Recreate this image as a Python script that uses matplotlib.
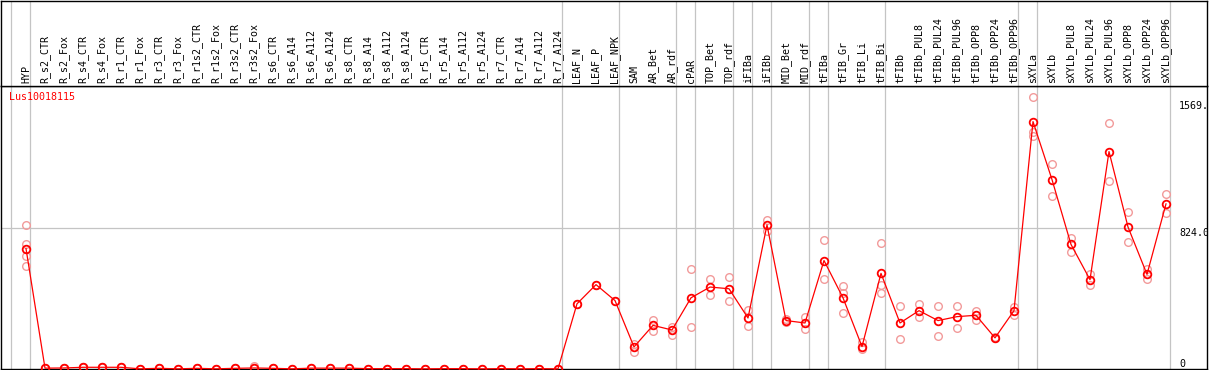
import numpy as np
from matplotlib import pyplot as plt

plt.rcParams['font.family'] = 'DejaVu Sans Mono'

gene = 'Lus10018115'

labels = ['HYP',
          'R_s2_CTR', 'R_s2_Fox', 'R_s4_CTR', 'R_s4_Fox', 'R_r1_CTR', 'R_r1_Fox',
          'R_r3_CTR', 'R_r3_Fox', 'R_r1s2_CTR', 'R_r1s2_Fox', 'R_r3s2_CTR', 'R_r3s2_Fox',
          'R_s6_CTR', 'R_s6_A14', 'R_s6_A112', 'R_s6_A124',
          'R_s8_CTR', 'R_s8_A14', 'R_s8_A112', 'R_s8_A124',
          'R_r5_CTR', 'R_r5_A14', 'R_r5_A112', 'R_r5_A124',
          'R_r7_CTR', 'R_r7_A14', 'R_r7_A112', 'R_r7_A124',
          'LEAF_N', 'LEAF_P', 'LEAF_NPK',
          'SAM', 'AR_Bet', 'AR_rdf',
          'cPAR',
          'TOP_Bet', 'TOP_rdf',
          'iFIBa',
          'iFIBb',
          'MID_Bet', 'MID_rdf',
          'tFIBa',
          'tFIB_Gr', 'tFIB_Li', 'tFIB_Bi',
          'tFIBb', 'tFIBb_PUL8', 'tFIBb_PUL24', 'tFIBb_PUL96',
          'tFIBb_OPP8', 'tFIBb_OPP24', 'tFIBb_OPP96',
          'sXYLa',
          'sXYLb', 'sXYLb_PUL8', 'sXYLb_PUL24', 'sXYLb_PUL96',
          'sXYLb_OPP8', 'sXYLb_OPP24', 'sXYLb_OPP96']

means = [704,
         5, 6, 10, 10, 10, 1, 4, 1, 4, 1, 4, 6,
         4, 1, 5, 5, 5, 2, 2, 2, 1, 2, 2, 1, 2, 1, 2, 1,
         381, 493, 400,
         129, 255, 228,
         416,
         479, 469,
         298,
         842,
         283, 269,
         634,
         416, 131, 559,
         269, 341, 283, 306, 314, 182, 341,
         1446,
         1107, 728, 522, 1271, 830, 553, 965]

reps = [[842, 728, 659, 600],
        [5, 5], [6, 6], [10, 10], [10, 10], [10, 10], [1, 1], [4, 4], [1, 1],
        [4, 4], [1, 1], [4, 4], [18, 4],
        [4, 4], [1, 1], [5, 5], [5, 5], [5, 5], [2, 2], [2, 2], [2, 2],
        [1, 1], [2, 2], [2, 2], [1, 1], [2, 2], [1, 1], [2, 2], [1, 1],
        [381], [493], [400],
        [145, 102], [288, 225], [243, 200],
        [587, 247],
        [526, 434], [540, 400],
        [347, 249],
        [871, 808],
        [277, 290], [306, 235],
        [752, 528],
        [487, 443, 328], [155, 116], [736, 490, 446],
        [371, 175], [377, 302], [371, 192], [371, 240], [341, 287], [185, 180], [361, 318],
        [1587, 1385, 1361],
        [1201, 1012], [763, 685], [557, 493], [1440, 1101], [916, 740], [583, 524], [1022, 911]]

# last column of each group (vertical separators)
group_ends = [-1, 0, 28, 31, 34, 35, 37, 38, 39, 41, 42, 45, 52, 53, 60]

ytick_vals = [1569, 824, 0]
ytick_text = ['1569.', '824.0', '0']

W, H = 1209, 370
fig = plt.figure(figsize=(W / 100, H / 100), dpi=100)

x = np.arange(len(labels))
x0, x1 = (1 - 26) / 19, (1207 - 26) / 19
ymax = 283 / 0.1711

ax = fig.add_axes([1 / W, 1 / H, 1206 / W, 283 / H])
hax = fig.add_axes([1 / W, 284 / H, 1206 / W, 85.5 / H])

for a in (ax, hax):
    a.set_xlim(x0, x1)
    a.set_xticks([])
    a.set_yticks([])
    for s in a.spines.values():
        s.set_color('black')
        s.set_linewidth(1.0)
    for g in group_ends:
        a.axvline(g + 0.22, color='#c4c4c4', lw=0.9, zorder=0)

ax.set_ylim(0, ymax)
hax.set_ylim(0, 85.5)

ax.hlines(824, x0, group_ends[-1] + 0.22, color='#c4c4c4', lw=0.9, zorder=0)

for i, r in enumerate(reps):
    ax.plot([i] * len(r), r, 'o', ms=5.5, mfc='none', mec='#f29a9a', mew=1.0,
            clip_on=False, zorder=2)
ax.plot(x, means, '-', color='red', lw=0.9, zorder=3, clip_on=False)
ax.plot(x, means, 'o', ms=5.5, mfc='none', mec='red', mew=1.3, zorder=4, clip_on=False)

for i, lab in enumerate(labels):
    hax.text(i, 3, lab, rotation=90, ha='center', va='bottom', fontsize=7.2)

ax.text(8 / 1206, (369 - 97) / 283, gene, color='red', fontsize=7.2,
        transform=ax.transAxes, ha='left', va='center')

for v, t in zip(ytick_vals, ytick_text):
    ax.text((1179 - 26) / 19, v, t, ha='left', va='bottom' if v == 0 else 'top',
            fontsize=7.2, clip_on=True)

fig.savefig('out.png', dpi=100)
